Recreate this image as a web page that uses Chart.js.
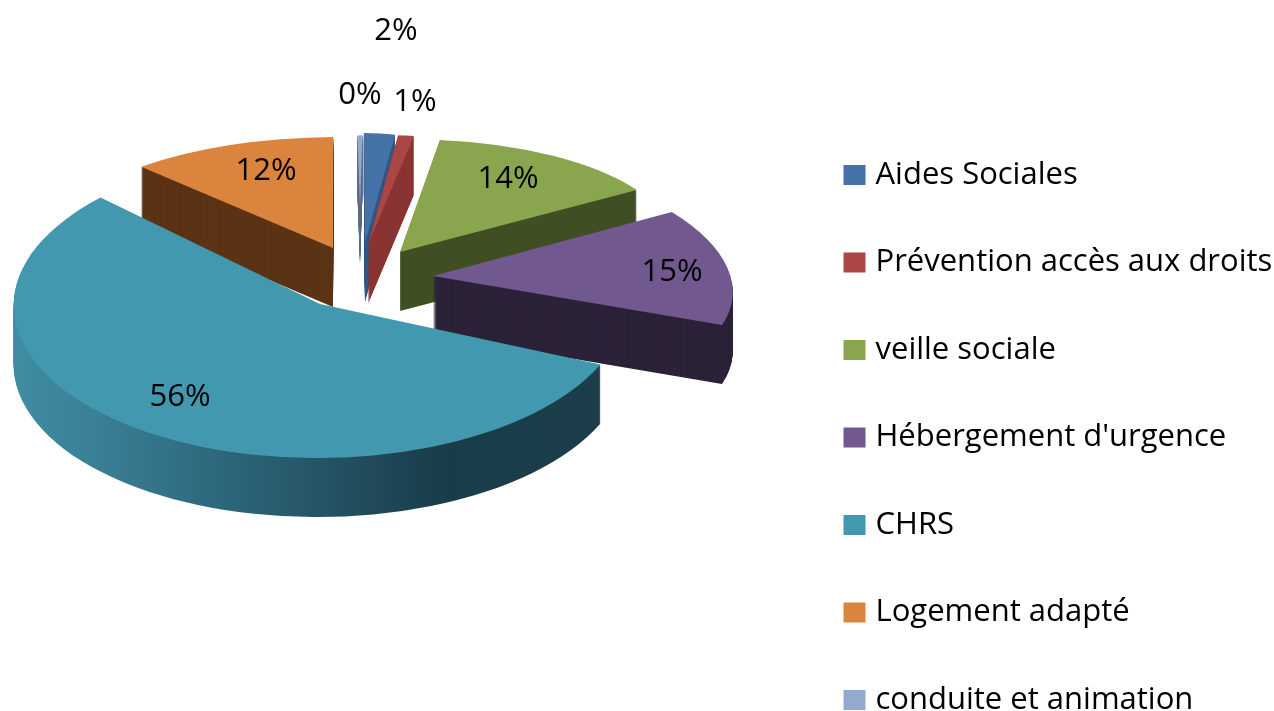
<!DOCTYPE html>
<html><head><meta charset="utf-8">
<style>html,body{margin:0;padding:0;background:#fff;overflow:hidden}canvas{display:block;filter:blur(.4px)}</style>
<script src="https://cdn.jsdelivr.net/npm/chart.js@4"></script>
</head><body><canvas id="c" width="1274" height="711"></canvas>
<script>
const categories = ["Aides Sociales","Prévention accès aux droits","veille sociale","Hébergement d'urgence","CHRS","Logement adapté","conduite et animation"];
const values = [2.4,1.2,14,14.6,55.7,11.7,0.4];
const topColors = ["#4572A7","#AA4643","#89A54E","#71588F","#4198AF","#DB843D","#93A9CF"];
const wallColors = ["#335680","#893533","#404F24","#2C2238",null,"#5B3415","#5F6E8A"];

// 3D look: each exploded slice gets its own perspective projection
const unitRadius = 100, depth = 59, pieX = 358, pieY = 278;
const sliceShift = [[7,-35],[10,-33],[42,-26],[75,-2],[-38,26],[-25,-30],[2,-73]];
const sliceProjection = [
  [207,13,-17,109.3],[212,0,-16.7,110],[277.2,-3.5,-1.5,112.6],
  [298.3,3.6,29,128],[306,6,-15,154],[284.5,10.7,-32.3,110.5],[200,0,-20,70]
];
const drawOrder = [6,0,1,5,2,3,4];
const labelShift = [[31,-212],[47,-143],[108,-73],[239,-4],[-140,93],[-67,-77],[0,-110]];
const wallStops = [[0,"#408DA4"],[0.15,"#3A8097"],[0.5,"#26596B"],[0.75,"#193C49"],[1,"#1B3E4A"]];
const wallSpan = [14,608];
const labelFont = "31px 'Open Sans'";

function paint(ctx,arc,i,py,fill){
  const saved=arc.options, m=sliceProjection[i];
  arc.options=Object.create(saved,{backgroundColor:{value:fill},borderWidth:{value:0}});
  ctx.save();
  ctx.transform(m[0]/unitRadius,m[1]/unitRadius,m[2]/unitRadius,m[3]/unitRadius,pieX+sliceShift[i][0],py);
  ctx.translate(-arc.x,-arc.y);
  arc.draw(ctx);
  ctx.restore();
  arc.options=saved;
}
const pie3d={
  id:'pie3d',
  afterLayout(chart){
    const lg=chart.legend;
    const w=lg.right-lg.left,h=lg.bottom-lg.top;
    lg.left=792.5;lg.right=lg.left+w;lg.top=103;lg.bottom=lg.top+h;
  },
  beforeDatasetsDraw(chart){
    const ctx=chart.ctx,arcs=chart.getDatasetMeta(0).data;
    const total=values.reduce((a,b)=>a+b,0);
    for(const i of drawOrder){
      const arc=arcs[i];
      const py=pieY+sliceShift[i][1], px=pieX+sliceShift[i][0];
      let wall=wallColors[i];
      if(!wall){
        const sx=sliceProjection[i][0]/unitRadius;
        wall=ctx.createLinearGradient(arc.x+(wallSpan[0]-px)/sx,0,arc.x+(wallSpan[1]-px)/sx,0);
        wallStops.forEach(s=>wall.addColorStop(s[0],s[1]));
      }
      for(let d=depth;d>0;d--) paint(ctx,arc,i,py+d,wall);
      paint(ctx,arc,i,py,topColors[i]);
    }
    ctx.save();
    ctx.font=labelFont;ctx.fillStyle="#000";ctx.textAlign="center";ctx.textBaseline="middle";
    arcs.forEach((arc,i)=>{
      ctx.fillText(Math.round(values[i]/total*100)+"%",pieX+sliceShift[i][0]+labelShift[i][0],pieY+sliceShift[i][1]+labelShift[i][1]);
    });
    ctx.restore();
    return false;
  }
};
new Chart(document.getElementById('c'),{
  type:'pie',
  data:{labels:categories,datasets:[{data:values,backgroundColor:topColors,borderWidth:0}]},
  options:{
    responsive:false,animation:false,rotation:-5,radius:unitRadius,
    plugins:{tooltip:{enabled:false},
      legend:{position:'right',align:'start',
        labels:{padding:56.5,boxWidth:11,boxHeight:9,color:"#000",font:{family:"'Open Sans'",size:31},
          generateLabels:()=>categories.map((t,i)=>({text:t,fillStyle:topColors[i],strokeStyle:topColors[i],lineWidth:11,index:i,hidden:false,fontColor:"#000"}))}}}
  },
  plugins:[pie3d]
});
</script></body></html>
